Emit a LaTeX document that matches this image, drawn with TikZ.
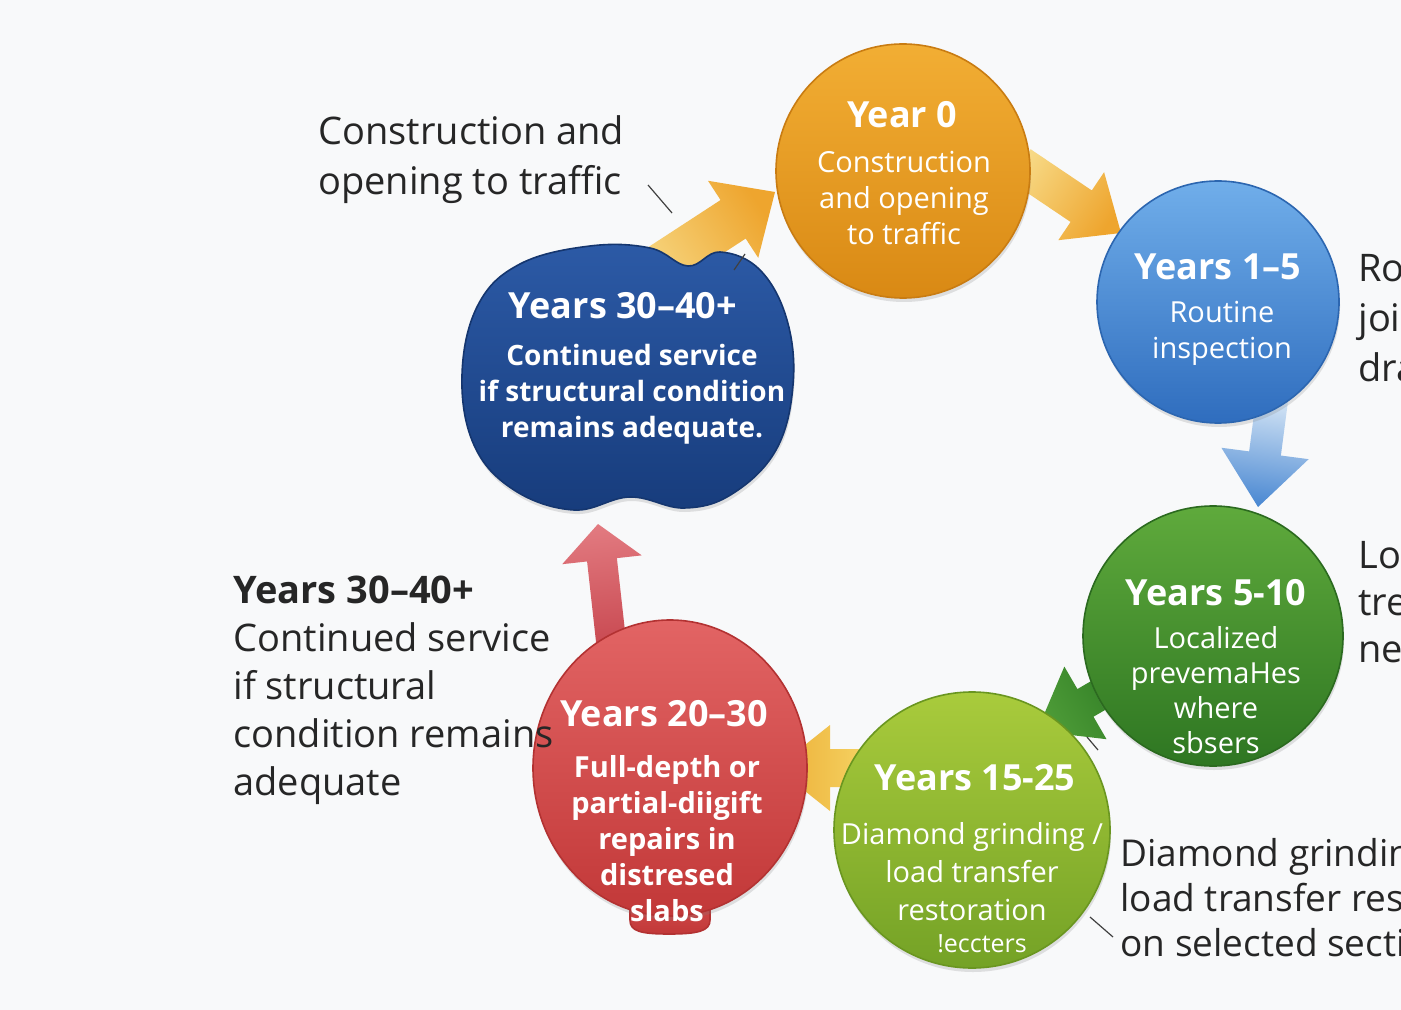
\documentclass[tikz,border=0pt]{standalone}
\usepackage{fontspec}
\setmainfont{Open Sans}
\usetikzlibrary{calc,shadows,shapes.geometric}
\definecolor{bgcol}{HTML}{F8F9FA}
\definecolor{txtgray}{HTML}{262626}
\definecolor{orTop}{HTML}{F2AE34}
\definecolor{orBot}{HTML}{D98914}
\definecolor{orEdge}{HTML}{C97C12}
\definecolor{blTop}{HTML}{70AEEA}
\definecolor{blBot}{HTML}{2F6DBE}
\definecolor{blEdge}{HTML}{2C66B0}
\definecolor{grTop}{HTML}{5FAA3C}
\definecolor{grBot}{HTML}{2E7622}
\definecolor{grEdge}{HTML}{2B6A1F}
\definecolor{lmTop}{HTML}{A9CB3C}
\definecolor{lmBot}{HTML}{74A226}
\definecolor{lmEdge}{HTML}{6A9620}
\definecolor{rdTop}{HTML}{E26464}
\definecolor{rdBot}{HTML}{C23838}
\definecolor{rdEdge}{HTML}{B33232}
\definecolor{nvTop}{HTML}{2C5AA6}
\definecolor{nvBot}{HTML}{173C7C}
\definecolor{nvEdge}{HTML}{15366F}
\definecolor{a1A}{HTML}{F7D985}
\definecolor{a1B}{HTML}{EEA52E}
\definecolor{a3A}{HTML}{D3E4F5}
\definecolor{a3B}{HTML}{4A88D2}
\definecolor{a4A}{HTML}{2F7C24}
\definecolor{a4B}{HTML}{4E9C38}
\definecolor{a5A}{HTML}{F6D464}
\definecolor{a5B}{HTML}{ECAE36}
\definecolor{a6A}{HTML}{C84850}
\definecolor{a6B}{HTML}{E27A80}
\newcommand\blockarr[6]{%
  \coordinate (#1-hb) at ($(#2)!#5!(#1)$);
  \path[#6] ($(#1)!#3!90:(#2)$) -- ($(#1-hb)!#3!90:(#2)$) -- ($(#1-hb)!#4!90:(#2)$) -- (#2)
    -- ($(#1-hb)!#4!-90:(#2)$) -- ($(#1-hb)!#3!-90:(#2)$) -- ($(#1)!#3!-90:(#2)$) -- cycle;}
\begin{document}
\begin{tikzpicture}[x=0.5pt,y=-0.5pt,
  disc/.style={circle, minimum size=#1, inner sep=0pt, line width=0.8pt,
    drop shadow={opacity=0.22, shadow xshift=0.5pt, shadow yshift=-2pt}},
  ttl/.style={text=white, font=\bfseries\fontsize{18}{22}\selectfont, inner sep=0pt},
  bdy/.style={text=white, align=center, font=\fontsize{14.5}{18}\selectfont, inner sep=0pt},
  bdyb/.style={text=white, align=center, font=\bfseries\fontsize{14}{18}\selectfont, inner sep=0pt},
  outer/.style={text=txtgray, align=left, anchor=west, inner sep=0pt},
  leader/.style={draw=black!75, line width=0.6pt},
]
\useasboundingbox (0,0) rectangle (1401,1010);
\clip (0,0) rectangle (1401,1010);
\fill[bgcol] (0,0) rectangle (1401,1010);

% arrow end points
\coordinate (a1s) at (640,280); \coordinate (a1e) at (775,192);
\coordinate (a2s) at (1020,165); \coordinate (a2e) at (1121,233);
\coordinate (a3s) at (1272,400); \coordinate (a3e) at (1258,507);
\coordinate (a4s) at (1130,677); \coordinate (a4e) at (1037,731);
\coordinate (a5s) at (870,768); \coordinate (a5e) at (776,768);
\coordinate (a6s) at (612,650); \coordinate (a6e) at (598,524);

\blockarr{a1s}{a1e}{11.5pt}{23pt}{25pt}{bottom color=a1A, top color=a1B, shading angle=-57}
\blockarr{a2s}{a2e}{9.5pt}{20.5pt}{24pt}{bottom color=a1A, top color=a1B, shading angle=-124}
\blockarr{a3s}{a3e}{8pt}{22pt}{27pt}{bottom color=a3A, top color=a3B, shading angle=172}
\blockarr{a4s}{a4e}{8pt}{21pt}{28pt}{bottom color=a4A, top color=a4B, shading angle=120}
\blockarr{a5s}{a5e}{9.5pt}{21.5pt}{27pt}{bottom color=a5A, top color=a5B, shading angle=90}
\blockarr{a6s}{a6e}{7.5pt}{20pt}{18pt}{bottom color=a6A, top color=a6B, shading angle=6}

% circles
\node[disc=127pt, top color=orTop, bottom color=orBot, draw=orEdge] (y0) at (903,171) {};
\node[disc=121pt, top color=blTop, bottom color=blBot, draw=blEdge] (y1) at (1218,302) {};
\node[disc=130pt, top color=grTop, bottom color=grBot, draw=grEdge] (y5) at (1213,636) {};
\node[disc=138pt, top color=lmTop, bottom color=lmBot, draw=lmEdge] (y15) at (972,830) {};
% red balloon with stub
\path[top color=rdTop!60!rdBot, bottom color=rdBot, draw=rdEdge, line width=0.8pt]
  (630,886) -- (630,920) .. controls (630,931) and (640,934) .. (669,934)
  .. controls (698,934) and (710,931) .. (710,920) -- (710,886) -- cycle;
\node[ellipse, minimum width=137pt, minimum height=148pt, inner sep=0pt, line width=0.8pt,
  drop shadow={opacity=0.22, shadow xshift=0.5pt, shadow yshift=-2pt},
  top color=rdTop, bottom color=rdBot, draw=rdEdge] (y20) at (670,768) {};
% navy cloud
\path[top color=nvTop, bottom color=nvBot, draw=nvEdge, line width=0.8pt,
  drop shadow={opacity=0.22, shadow xshift=0.5pt, shadow yshift=-2pt}]
  plot[smooth cycle, tension=0.65] coordinates {
  (462,375) (478,305) (520,264) (590,246) (650,248) (688,266) (720,252) (760,270)
  (787,320) (793,385) (776,450) (732,494) (684,508) (630,497) (574,510) (514,490) (474,445)};
\coordinate (y30) at (627,378);

% leader lines
\coordinate (l1a) at (648,185); \coordinate (l1b) at (672,213);
\coordinate (l2a) at (734,270); \coordinate (l2b) at (745,254);
\coordinate (l3a) at (1090,917); \coordinate (l3b) at (1113,937);
\coordinate (l4a) at (1087,737); \coordinate (l4b) at (1098,750);
\draw[leader] (l1a) -- (l1b);
\draw[leader] (l2a) -- (l2b);
\draw[leader] (l3a) -- (l3b);
\draw[leader] (l4a) -- (l4b);

% texts inside circles
\node[ttl] (y0t) at (902,115) {Year 0};
\node[bdy] (y0b) at (904,198) {Construction\\and opening\\to traffic};
\node[ttl] (y1t) at (1218,267) {Years 1–5};
\node[bdy] (y1b) at (1222,333) {Routine\\inspection};
\node[ttl] (y5t) at (1216,593) {Years 5-10};
\node[bdy, font=\fontsize{14.5}{17.5}\selectfont] (y5b) at (1216,690) {Localized\\prevemaHes\\where\\sbsers};
\node[ttl] (y15t) at (975,778) {Years 15-25};
\node[bdy, font=\fontsize{14.5}{19}\selectfont] (y15b) at (972,872) {Diamond grinding /\\load transfer\\restoration};
\node[bdy, font=\fontsize{12.5}{14}\selectfont] (y15c) at (982,944) {!eccters};
\node[ttl] (y20t) at (664,714) {Years 20–30};
\node[bdyb, font=\bfseries\fontsize{14.5}{18}\selectfont] (y20b) at (667,839) {Full-depth or\\partial-diigift\\repairs in\\distresed\\slabs};
\node[ttl] (y30t) at (623,306) {Years 30–40+};
\node[bdyb] (y30b) at (632,394) {Continued service\\if structural condition\\remains adequate.};

% outside texts
\node[outer, font=\fontsize{19}{25}\selectfont] (lt1) at (318,160) {Construction and\\opening to traffic};
\node[outer, font=\fontsize{19}{25}\selectfont] (rt1) at (1358,318) {Ro\\joi\\dra};
\node[outer, font=\fontsize{19}{23.5}\selectfont] (rt2) at (1358,602) {Lo\\tre\\ne};
\node[outer, font=\fontsize{18.5}{22.5}\selectfont] (rt3) at (1120,898) {Diamond grindin\\load transfer resto\\on selected sectio};
\node[outer, font=\fontsize{19}{24}\selectfont] (lft) at (233,690) {\textbf{Years 30–40+}\\Continued service\\if structural\\condition remains\\adequate};
\end{tikzpicture}
\end{document}
